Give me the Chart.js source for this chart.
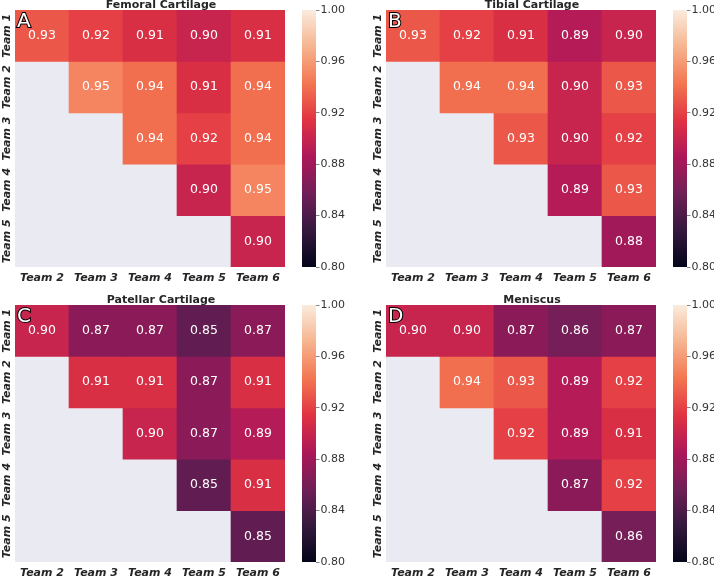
<!DOCTYPE html>
<html>
<head>
<meta charset="utf-8">
<script src="https://cdn.jsdelivr.net/npm/chart.js@4"></script>
<style>
body{margin:0;background:#fff;width:714px;height:577px;overflow:hidden;position:relative}
canvas{position:absolute}
</style>
</head>
<body>
<canvas id="hmA" width="290" height="290" style="left:0;top:0"></canvas>
<canvas id="cbA" width="60" height="290" style="left:296px;top:0"></canvas>
<canvas id="hmB" width="290" height="290" style="left:371px;top:0"></canvas>
<canvas id="cbB" width="60" height="290" style="left:667px;top:0"></canvas>
<canvas id="hmC" width="290" height="290" style="left:0;top:295px"></canvas>
<canvas id="cbC" width="60" height="290" style="left:296px;top:295px"></canvas>
<canvas id="hmD" width="290" height="290" style="left:371px;top:295px"></canvas>
<canvas id="cbD" width="60" height="290" style="left:667px;top:295px"></canvas>
<script>
const colLabels = ['Team 2', 'Team 3', 'Team 4', 'Team 5', 'Team 6'];
const rowLabels = ['Team 1', 'Team 2', 'Team 3', 'Team 4', 'Team 5'];

const femoral = [
	[0.93, 0.92, 0.91, 0.90, 0.91],
	[null, 0.95, 0.94, 0.91, 0.94],
	[null, null, 0.94, 0.92, 0.94],
	[null, null, null, 0.90, 0.95],
	[null, null, null, null, 0.90]
];
const tibial = [
	[0.93, 0.92, 0.91, 0.89, 0.90],
	[null, 0.94, 0.94, 0.90, 0.93],
	[null, null, 0.93, 0.90, 0.92],
	[null, null, null, 0.89, 0.93],
	[null, null, null, null, 0.88]
];
const patellar = [
	[0.90, 0.87, 0.87, 0.85, 0.87],
	[null, 0.91, 0.91, 0.87, 0.91],
	[null, null, 0.90, 0.87, 0.89],
	[null, null, null, 0.85, 0.91],
	[null, null, null, null, 0.85]
];
const meniscus = [
	[0.90, 0.90, 0.87, 0.86, 0.87],
	[null, 0.94, 0.93, 0.89, 0.92],
	[null, null, 0.92, 0.89, 0.91],
	[null, null, null, 0.87, 0.92],
	[null, null, null, null, 0.86]
];

const cbarTicks = [0.80, 0.84, 0.88, 0.92, 0.96, 1.00];
const vmin = 0.80, vmax = 1.00;

// rocket colormap stops
const rocket = [[0, '#03051a'], [1/7, '#35193e'], [2/7, '#701f57'], [3/7, '#ad1759'],
	[4/7, '#e13342'], [5/7, '#f37651'], [6/7, '#f6b48f'], [1, '#faebdd']];

function hexRgb(h) {
	return [1, 3, 5].map(i => parseInt(h.substr(i, 2), 16));
}

function rocketColor(v) {
	let t = (v - vmin) / (vmax - vmin);
	t = Math.max(0, Math.min(1, t));
	for (let i = 1; i < rocket.length; i++) {
		if (t <= rocket[i][0]) {
			const a = hexRgb(rocket[i - 1][1]), b = hexRgb(rocket[i][1]);
			const f = (t - rocket[i - 1][0]) / (rocket[i][0] - rocket[i - 1][0]);
			return 'rgb(' + a.map((x, k) => Math.round(x + (b[k] - x) * f)).join(',') + ')';
		}
	}
}

const tickFont = {family: 'DejaVu Sans', size: 11, weight: 'bold', style: 'italic'};
const mctx = document.createElement('canvas').getContext('2d');
mctx.font = 'italic bold 11px "DejaVu Sans"';
const widest = Math.max(...rowLabels.map(s => mctx.measureText(s).width));

const panelPlugin = {
	id: 'panel',
	beforeDatasetsDraw(chart) {
		const a = chart.chartArea, c = chart.ctx;
		c.save();
		c.fillStyle = '#eaeaf2';
		c.fillRect(a.left, a.top, a.right - a.left, a.bottom - a.top);
		c.restore();
	},
	afterDatasetsDraw(chart, args, opts) {
		const c = chart.ctx, a = chart.chartArea;
		c.save();
		c.font = '12.5px "DejaVu Sans"';
		c.fillStyle = '#fff';
		c.textAlign = 'center';
		c.textBaseline = 'middle';
		chart.data.datasets.forEach((ds, di) => {
			chart.getDatasetMeta(di).data.forEach((bar, j) => {
				const v = ds.values[j];
				if (v == null) return;
				c.fillText(v.toFixed(2), bar.x, (bar.y + bar.base) / 2);
			});
		});
		c.font = 'bold 11px "DejaVu Sans"';
		c.fillStyle = '#262626';
		c.textBaseline = 'alphabetic';
		c.fillText(opts.title, (a.left + a.right) / 2 + 11, a.top - 2);
		c.font = '20px "DejaVu Sans"';
		c.textAlign = 'left';
		c.lineWidth = 2;
		c.strokeStyle = '#000';
		c.strokeText(opts.letter, a.left + 2, a.top + 17);
		c.fillStyle = '#fff';
		c.fillText(opts.letter, a.left + 2, a.top + 17);
		c.restore();
	}
};

function heatmap(id, title, letter, matrix) {
	new Chart(document.getElementById(id), {
		type: 'bar',
		data: {
			labels: colLabels,
			datasets: matrix.map((row, r) => ({
				values: row,
				data: row.map(v => v == null ? null : [r, r + 1]),
				backgroundColor: row.map(v => v == null ? 'rgba(0,0,0,0)' : rocketColor(v)),
				grouped: false,
				barPercentage: 1,
				categoryPercentage: 1,
				borderWidth: 0
			}))
		},
		options: {
			responsive: false,
			animation: false,
			devicePixelRatio: 1,
			layout: {padding: {left: 0, right: 5, top: 10, bottom: 0}},
			plugins: {
				legend: {display: false},
				tooltip: {enabled: false},
				panel: {title: title, letter: letter}
			},
			scales: {
				x: {
					grid: {display: false, drawTicks: false},
					border: {display: false},
					ticks: {font: tickFont, color: '#262626', padding: 5, maxRotation: 0},
					afterFit(s) { s.height = 23; }
				},
				y: {
					type: 'linear',
					min: 0,
					max: 5,
					reverse: true,
					grid: {display: false, drawTicks: false},
					border: {display: false},
					afterBuildTicks(s) { s.ticks = rowLabels.map((_, i) => ({value: i + 0.5})); },
					ticks: {
						font: tickFont,
						color: '#262626',
						minRotation: 90,
						maxRotation: 90,
						crossAlign: 'center',
						padding: 15 - 7.5 - widest / 2,
						callback: (v, i) => rowLabels[i]
					},
					afterFit(s) { s.width = 15; }
				}
			}
		},
		plugins: [panelPlugin]
	});
}

function colorbar(id) {
	new Chart(document.getElementById(id), {
		type: 'bar',
		data: {
			labels: [''],
			datasets: [{
				data: [[vmin, vmax]],
				backgroundColor(ctx) {
					const a = ctx.chart.chartArea;
					if (!a) return 'rgba(0,0,0,0)';
					const g = ctx.chart.ctx.createLinearGradient(0, a.bottom, 0, a.top);
					rocket.forEach(([t, c]) => g.addColorStop(t, c));
					return g;
				},
				barPercentage: 1,
				categoryPercentage: 1,
				borderWidth: 0
			}]
		},
		options: {
			responsive: false,
			animation: false,
			devicePixelRatio: 1,
			layout: {padding: {left: 6, top: 10, bottom: 23, right: 0}},
			plugins: {legend: {display: false}, tooltip: {enabled: false}},
			scales: {
				x: {display: false},
				y: {
					position: 'right',
					min: vmin,
					max: vmax,
					afterBuildTicks(s) { s.ticks = cbarTicks.map(v => ({value: v})); },
					grid: {drawOnChartArea: false, tickLength: 3.5, tickColor: '#666', tickWidth: 0.8},
					border: {display: false},
					ticks: {font: {family: 'DejaVu Sans', size: 11}, color: '#333', padding: 1,
						callback: v => v.toFixed(2)},
					afterFit(s) { s.width = 40; }
				}
			}
		}
	});
}

heatmap('hmA', 'Femoral Cartilage', 'A', femoral);
heatmap('hmB', 'Tibial Cartilage', 'B', tibial);
heatmap('hmC', 'Patellar Cartilage', 'C', patellar);
heatmap('hmD', 'Meniscus', 'D', meniscus);
colorbar('cbA');
colorbar('cbB');
colorbar('cbC');
colorbar('cbD');
</script>
</body>
</html>
